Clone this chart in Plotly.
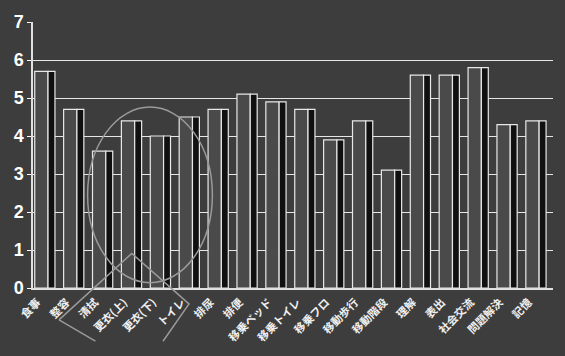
import plotly.graph_objects as go

categories = ["食事", "整容", "清拭", "更衣(上)", "更衣(下)", "トイレ", "排尿", "排便",
              "移乗ベッド", "移乗トイレ", "移乗フロ", "移動歩行", "移動階段",
              "理解", "表出", "社会交流", "問題解決", "記憶"]
values = [5.7, 4.7, 3.6, 4.4, 4.0, 4.5, 4.7, 5.1, 4.9, 4.7, 3.9, 4.4, 3.1,
          5.6, 5.6, 5.8, 4.3, 4.4]
y_ticks = [0, 1, 2, 3, 4, 5, 6, 7]

BG = "#3d3d3d"
fig = go.Figure()
# front face
fig.add_trace(go.Bar(x=categories, y=values, offset=-0.44, width=0.46,
                     marker=dict(color="#4a4a4a", line=dict(color="#e8e8e8", width=1.2)),
                     showlegend=False, hoverinfo="x+y"))
# side face
fig.add_trace(go.Bar(x=categories, y=values, offset=0.02, width=0.24,
                     marker=dict(color="#101010", line=dict(color="#e8e8e8", width=1.2)),
                     showlegend=False, hoverinfo="skip"))

fig.update_layout(
    width=565, height=356,
    margin=dict(l=33, r=12, t=14, b=59),
    paper_bgcolor=BG, plot_bgcolor=BG,
    barmode="overlay",
    font=dict(family="Noto Sans CJK JP", color="white"),
    xaxis=dict(tickangle=-45, tickfont=dict(size=11, color="#f0f0f0", weight="bold"),
               showgrid=False, showline=True, linecolor="#e0e0e0", linewidth=1.5,
               ticks="", ticklabelshift=-10, ticklabelstandoff=2),
    yaxis=dict(range=[0, 7], tickvals=y_ticks, ticktext=[str(v) for v in y_ticks],
               tickfont=dict(size=18, color="white", family="Liberation Sans", weight="bold"),
               showgrid=True, gridcolor="#e6e6e6", gridwidth=1.2,
               showline=True, linecolor="#e0e0e0", linewidth=1.5,
               ticks="outside", ticklen=4, tickcolor="white", zeroline=False),
    shapes=[
        dict(type="circle", xref="paper", yref="paper",
             x0=0.105, x1=0.345, y0=0.02, y1=0.68,
             line=dict(color="#9a9a9a", width=1.5)),
        dict(type="path", xref="paper", yref="paper",
             path="M 0.05,-0.12 L 0.19,0.13 L 0.30,-0.06 L 0.25,-0.2 M 0.05,-0.12 L 0.12,-0.2",
             line=dict(color="#9a9a9a", width=1.5)),
    ],
)

fig.write_html("out.html")
